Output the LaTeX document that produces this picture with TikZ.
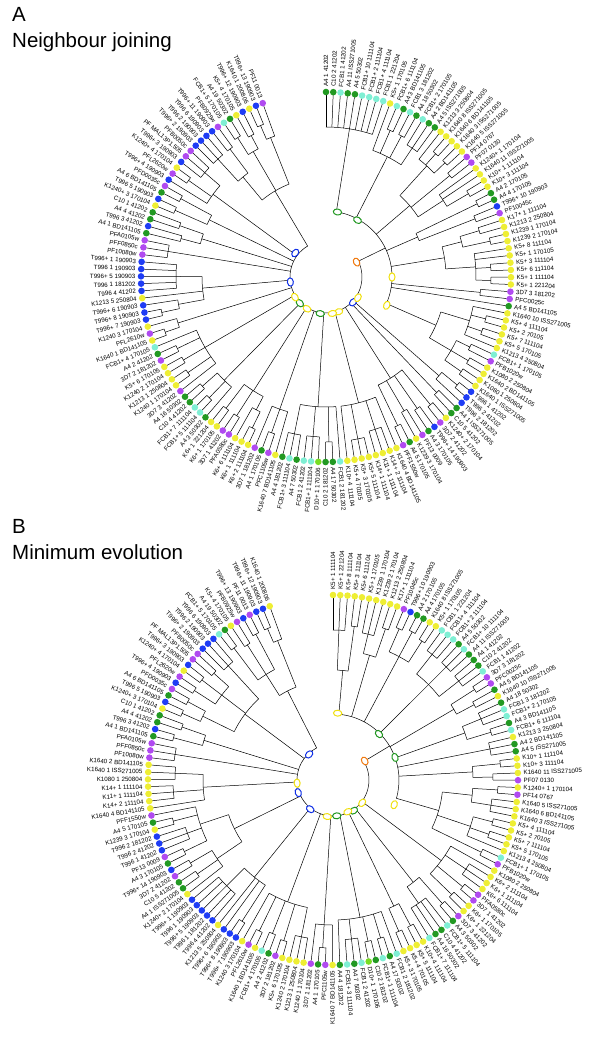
\documentclass[tikz,border=0pt]{standalone}
\usepackage{fontspec}
\setmainfont{Liberation Sans}
\definecolor{cG}{HTML}{229922}
\definecolor{cC}{HTML}{7FEFD4}
\definecolor{cY}{HTML}{EEEE33}
\definecolor{cP}{HTML}{B04AF0}
\definecolor{cB}{HTML}{1E3CF5}
\definecolor{cL}{HTML}{77DD22}
\definecolor{mO}{HTML}{F07A10}
\definecolor{mG}{HTML}{1E961E}
\definecolor{mY}{HTML}{F0E010}
\definecolor{mB}{HTML}{1030E6}
\newcommand\lbfont{\fontsize{6.2}{7}\selectfont}
\newcommand\TAng[1]{90-(#1-1)*2.251656}
\newcommand\TLf[2]{\pgfmathsetmacro\ta{\TAng{#1}}\draw[tl] (\ta:182pt) -- (\ta:#2pt);}
\newcommand\TArc[3]{\pgfmathsetmacro\ta{\TAng{#1}}\pgfmathsetmacro\tb{\TAng{#2}}\draw[tl] (\ta:#3pt) arc[start angle=\ta, end angle=\tb, radius=#3pt];}
\newcommand\TLn[3]{\pgfmathsetmacro\ta{\TAng{#1}}\draw[tl] (\ta:#2pt) -- (\ta:#3pt);}
\newcommand\TIg[4]{\TArc{#1}{#2}{#3}\TLn{(#1+#2)/2}{#3}{#4}}
\newcommand\TLg[4]{\foreach \k in {#1,...,#2}{\TLf{\k}{#3}}\TIg{#1}{#2}{#3}{#4}}
\newcommand\TMk[3]{\begin{scope}[shift={(#1:#2pt)},rotate=#1]\draw[line width=1pt,draw=#3,fill=white] (0,0) ellipse[x radius=3pt,y radius=4.2pt];\end{scope}}
\newcommand\TLeaves[2]{%
 \foreach \lab/\col [count=\i] in {#2}{%
  \pgfmathsetmacro\ta{\TAng{\i}}%
  \fill[fill=\col] (\ta:185pt) circle[radius=3.3pt];
  \ifdim\ta pt<-90pt
    \pgfmathsetmacro\tr{\ta+180}%
    \node[lbl,anchor=east,rotate=\tr] (#1\i) at (\ta:190.5pt) {\lab};
  \else
    \node[lbl,anchor=west,rotate=\ta] (#1\i) at (\ta:190.5pt) {\lab};
  \fi}}
\tikzset{tl/.style={line width=0.5pt,black},lbl/.style={font=\lbfont,inner sep=0pt},
 ttl/.style={anchor=base west,inner sep=0pt,font=\fontsize{20.5}{24}\selectfont}}
\begin{document}
\begin{tikzpicture}
\useasboundingbox (0pt,0pt) rectangle (600pt,-1042pt);
\node[ttl] (tA) at (12pt,-21pt) {A};
\node[ttl] (tAn) at (12pt,-47pt) {Neighbour joining};
\node[ttl] (tB) at (12pt,-533pt) {B};
\node[ttl] (tBn) at (12pt,-559pt) {Minimum evolution};
% ---------------- Tree A ----------------
\begin{scope}[shift={(326pt,-277pt)}]
\TLg{1}{9}{150}{66}
\TLf{10}{135}\TLg{11}{12}{160}{135}\TLg{13}{14}{160}{135}\TLg{15}{17}{155}{135}\TIg{10}{16}{135}{66}
\TLf{18}{150}\TLg{19}{20}{165}{150}\TLg{21}{22}{165}{150}\TIg{18}{21.5}{150}{110}
\TLg{23}{24}{160}{110}
\TLf{25}{140}\TLf{26}{140}\TLg{27}{28}{165}{140}\TIg{25}{27.5}{140}{110}
\TIg{19.75}{26.25}{110}{66}
\TLg{29}{30}{168}{100}\TLg{31}{32}{160}{100}\TIg{29.5}{31.5}{100}{66}
\TLg{33}{34}{160}{140}\TLg{35}{36}{168}{140}\TIg{33.5}{35.5}{140}{120}
\TLf{37}{150}\TLf{38}{150}\TLg{39}{40}{165}{150}\TLg{41}{42}{165}{150}\TIg{37}{41.5}{150}{120}
\TIg{34.5}{39.25}{120}{66}
\TLg{43}{44}{155}{66}
\TLf{45}{66}
\TLf{46}{150}\TLg{47}{48}{165}{150}\TLg{49}{50}{165}{150}\TLf{51}{150}\TIg{46}{51}{150}{120}
\TLg{52}{53}{160}{145}\TLg{54}{55}{165}{145}\TLg{56}{57}{165}{145}\TIg{52.5}{56.5}{145}{120}
\TIg{48.5}{54.5}{120}{66}
\TArc{5}{51.5}{66}\TLn{29.4}{36}{66}
\TLg{58}{59}{170}{150}\TLf{60}{150}\TIg{58.5}{60}{150}{36}
\TLg{61}{62}{160}{36}
\TLg{63}{64}{165}{120}\TLg{65}{66}{160}{120}\TLg{67}{68}{155}{120}\TLg{69}{70}{165}{120}\TIg{63.5}{69.5}{120}{36}
\TLf{71}{130}\TLg{72}{74}{160}{130}\TLg{75}{77}{165}{130}\TLf{78}{130}\TIg{71}{78}{130}{36}
\TLf{79}{130}\TLg{80}{81}{165}{130}\TLg{82}{84}{160}{130}\TLg{85}{87}{160}{130}\TIg{79}{86}{130}{36}
\TLf{88}{140}\TLg{89}{90}{165}{140}\TLf{91}{140}\TIg{88}{91}{140}{36}
\TLg{92}{93}{168}{150}\TLf{94}{150}\TIg{92.5}{94}{150}{135}\TLg{95}{96}{165}{135}\TLg{97}{98}{165}{135}\TIg{93.25}{97.5}{135}{36}
\TLf{99}{145}\TLg{100}{101}{168}{145}\TLg{102}{103}{165}{145}\TIg{99}{102.5}{145}{36}
\TLf{104}{140}\TLg{105}{106}{168}{140}\TLg{107}{108}{165}{140}\TLg{109}{110}{165}{140}\TLf{111}{140}\TIg{104}{111}{140}{36}
\TLg{112}{113}{170}{155}\TLf{114}{155}\TIg{112.5}{114}{155}{36}
\TLg{115}{116}{168}{150}\TLf{117}{150}\TIg{115.5}{117}{150}{124}\TLf{118}{124}\TLg{119}{123}{150}{124}\TIg{116.25}{121}{124}{36}
\TLg{124}{126}{160}{36}
\TLg{127}{128}{150}{130}\TLg{129}{130}{155}{130}\TIg{127.5}{129.5}{130}{36}
\TLg{131}{132}{165}{130}\TLg{133}{134}{165}{130}\TIg{131.5}{133.5}{130}{36}
\TLf{135}{140}\TLg{136}{137}{168}{140}\TLg{138}{140}{160}{140}\TIg{135}{139}{140}{36}
\TLg{141}{143}{160}{130}\TLg{144}{145}{160}{130}\TIg{142}{144.5}{130}{100}
\TLg{146}{147}{165}{145}\TLg{148}{149}{160}{145}\TIg{146.5}{148.5}{145}{100}
\TLg{150}{151}{165}{150}\TLf{152}{150}\TIg{150.5}{152}{150}{100}
\TIg{143.25}{151.25}{100}{36}
\TArc{29.4}{147.25}{36}
\TLeaves{a}{A4 1 41202/cG, C10 2 41202/cG, FCB1 1 41202/cC, A4 11 ISS271005/cG, A4 5 50302/cG, FCB1+ 10 111104/cC, FCB1+ 2 111104/cC, FCB1+ 4 111104/cC, FCB1 1 221204/cC, K5+ 1 170105/cY,
FCB1+ 6 111104/cC, A4 3 BD141105/cG, FCB1 3 181202/cC, A4 18 50302/cG, FCB1+ 2 170105/cC, A4 2 BD141105/cG, A4 5 ISS271005/cG, K1213 3 250804/cY, K1640 8 ISS271005/cY, K1640 6 BD141105/cY,
K1640 3 ISS271005/cY, K1640 5 ISS271005/cY, PF14 0767/cP, PF07 0130/cP, K1240+ 1 170104/cY, K1640 11 ISS271005/cY, K10+ 1 111104/cY, K10+ 3 111104/cY, A4 2 170105/cG, A4 4 170105/cG,
T996+ 10 190903/cB, PF10045c/cP, K17+ 1 111104/cY, K1213 2 250804/cY, K1239 1 170104/cY, K1239 2 170104/cY, K5+ 8 111104/cY, K5+ 1 170105/cY, K5+ 3 111104/cY, K5+ 6 111104/cY,
K5+ 1 111104/cY, K5+ 1 221204/cY, 3D7 3 181202/cP, PFC0025c/cP, A4 5 BD141105/cG, K1640 10 ISS271005/cY, K5+ 4 111104/cY, K5+ 2 70105/cY, K5+ 7 111104/cY, K5+ 5 170105/cY,
K1213 4 250804/cY, FCB1+ 1 170105/cC, PFB1020w/cP, K1080 2 250804/cY, K1640 2 BD141105/cY, K1080 1 250804/cY, K1640 1 ISS271005/cY, T996 1 41202/cB, T996 2 41202/cB, T996 2 181202/cB,
A4 1 ISS271005/cG, C10 5 41202/cG, K1240+ 2 170104/cY, 3D7 2 41202/cP, T996+ 14 190903/cB, A4 3 170105/cG, PF13 0009/cP, K1239 3 170104/cY, A4 5 170105/cG, PFF1550w/cP,
K1640 4 BD141105/cY, K14+ 2 111104/cY, K11+ 1 111104/cY, K14+ 1 111104/cY, K5+ 5 111104/cY, K5+ 3 170105/cY, K5+ 4 70105/cY, K10+ 4 111104/cY, FCB1 2 181202/cC, A4 17 50302/cG,
C10 2 181202/cG, D10+ 1 170106/cL, FCB1+ 1 111104/cC, FCB1 2 41202/cC, A4 7 50302/cG, FCB1+ 3 111104/cC, A4 4 181202/cG, K1640 7 BD141105/cY, PFC1105w/cP, A4 1 170105/cG,
3D7 1 181202/cP, K6+ 2 111104/cY, K6+ 1 111104/cY, K6+ 6 111104/cY, PFA0580c/cP, 3D7 1 41202/cP, K6+ 1 170105/cY, K6+ 1 221204/cY, A4 3 50302/cG, FCB1+ 5 111104/cC,
FCB1+ 7 111104/cC, C10 4 41202/cG, A4 16 50302/cG, 3D7 3 41202/cP, K1240 1 170104/cY, K1213 1 250804/cY, K1240 2 170104/cY, K5+ 6 170105/cY, 3D7 2 181202/cP, A4 2 41202/cG,
FCB1+ 4 170105/cC, K1640 1 BD141105/cY, PFL2610w/cP, K1240 3 170104/cY, T996+ 7 190903/cB, T996+ 8 190903/cB, T996+ 6 190903/cB, K1213 5 250804/cY, T996 4 41202/cB, T996 1 181202/cB,
T996+ 5 190903/cB, T996 1 190903/cB, T996+ 1 190903/cB, PF10080w/cP, PFF0850c/cP, PFA0105w/cP, A4 1 BD141105/cG, T996 3 41202/cB, A4 4 41202/cG, C10 1 41202/cG,
K1240+ 3 170104/cY, T996 5 190903/cB, A4 6 BD141105/cG, PFD0035c/cP, T996+ 4 190903/cB, PFL2620w/cP, K1240+ 4 170104/cY, T996+ 3 190903/cB, PF MAL13P1.505/cP, PFB0050c/cP,
T996+ 2 190903/cB, T996 2 190903/cB, T996 6 190903/cB, T996+ 11 190903/cB, PFB0925w/cP, FCB1+ 5 170105/cC, A4 19 50302/cG, K5+ 4 170105/cY, T996+ 12 190903/cB, K1640 1 200806/cY,
T996+ 13 190903/cB, PF11 0013/cP}
\TMk{26}{34}{mO}\TMk{80}{66}{mG}\TMk{61}{65}{mG}\TMk{0}{66}{mY}\TMk{-25}{67}{mY}
\TMk{-43}{37}{mB}\TMk{-33}{38}{mY}\TMk{-70}{37}{mY}\TMk{-80}{37}{mY}\TMk{-99}{37}{mG}
\TMk{-121}{37}{mY}\TMk{-135}{37}{mG}\TMk{-147}{37}{mY}\TMk{188}{36}{mB}\TMk{142}{39}{mB}
\end{scope}
% ---------------- Tree B ----------------
\begin{scope}[shift={(333pt,-780pt)}]
\TLg{1}{3}{150}{110}\TLg{4}{5}{155}{110}\TIg{2}{4.5}{110}{66}
\TLg{6}{8}{150}{130}\TLg{9}{10}{160}{130}\TIg{7}{9.5}{130}{66}
\TLg{11}{12}{165}{140}\TLg{13}{14}{168}{140}\TLg{15}{16}{165}{140}\TIg{11.5}{15.5}{140}{66}
\TLg{17}{19}{160}{135}\TLg{20}{22}{160}{135}\TLg{23}{25}{160}{135}\TIg{18}{24}{135}{66}
\TLg{26}{27}{168}{140}\TLg{28}{29}{160}{140}\TIg{26.5}{28.5}{140}{66}
\TLg{30}{32}{160}{140}\TLg{33}{34}{165}{140}\TIg{31}{33.5}{140}{66}
\TLg{35}{37}{160}{66}
\TLg{38}{39}{168}{140}\TLg{40}{41}{160}{140}\TIg{38.5}{40.5}{140}{66}
\TLg{42}{43}{165}{140}\TLg{44}{46}{160}{140}\TIg{42.5}{45}{140}{110}
\TLg{47}{48}{165}{145}\TLg{49}{50}{165}{145}\TLf{51}{145}\TIg{47.5}{51}{145}{110}
\TLg{52}{53}{165}{110}
\TIg{43.75}{52.5}{110}{66}
\TArc{3.25}{48.125}{66}\TLn{27.2}{36}{66}
\TLf{54}{135}\TLg{55}{57}{160}{135}\TLg{58}{59}{168}{135}\TLg{60}{61}{165}{135}\TIg{54}{60.5}{135}{36}
\TLg{62}{63}{165}{130}\TLg{64}{67}{150}{130}\TIg{62.5}{65.5}{130}{36}
\TLg{68}{69}{165}{140}\TLg{70}{71}{165}{140}\TIg{68.5}{70.5}{140}{36}
\TLf{72}{140}\TLg{73}{74}{165}{140}\TLg{75}{76}{165}{140}\TLg{77}{79}{160}{140}\TLf{80}{140}\TIg{72}{80}{140}{36}
\TLf{81}{145}\TLg{82}{83}{168}{145}\TLf{84}{145}\TIg{81}{84}{145}{36}
\TLg{85}{87}{160}{130}\TLg{88}{89}{168}{130}\TLg{90}{91}{165}{130}\TLg{92}{93}{168}{130}\TLf{94}{130}\TIg{86}{94}{130}{36}
\TLg{95}{96}{168}{125}\TLf{97}{125}\TLf{98}{125}\TLg{99}{103}{150}{125}\TIg{95.5}{101}{125}{36}
\TLf{104}{140}\TLg{105}{106}{165}{140}\TLg{107}{108}{165}{140}\TIg{104}{107.5}{140}{110}
\TLg{109}{110}{165}{140}\TLg{111}{113}{155}{140}\TLg{114}{115}{165}{140}\TLf{116}{140}\TIg{109.5}{116}{140}{110}
\TIg{105.75}{112.75}{110}{36}
\TLf{117}{130}\TLg{118}{120}{160}{130}\TLg{121}{123}{158}{130}\TIg{117}{122}{130}{36}
\TLg{124}{126}{160}{36}
\TLg{127}{128}{165}{135}\TLg{129}{130}{160}{135}\TIg{127.5}{129.5}{135}{36}
\TLg{131}{132}{165}{145}\TLg{133}{134}{165}{145}\TIg{131.5}{133.5}{145}{110}
\TLg{135}{136}{165}{140}\TLg{137}{138}{165}{140}\TLg{139}{140}{160}{140}\TIg{135.5}{139.5}{140}{110}
\TLg{141}{143}{155}{110}
\TIg{132.5}{142}{110}{36}
\TLg{144}{145}{165}{125}\TLg{146}{147}{160}{125}\TLg{148}{149}{165}{125}\TIg{144.5}{148.5}{125}{100}
\TLg{150}{151}{165}{150}\TLf{152}{150}\TIg{150.5}{152}{150}{100}
\TIg{146.5}{151.25}{100}{36}
\TArc{27.2}{148.875}{36}
\TLeaves{b}{K5+ 1 111104/cY, K5+ 1 221204/cY, K5+ 8 111104/cY, K5+ 3 111104/cY, K5+ 6 111104/cY, K5+ 1 170105/cY, K1239 1 170104/cY, K1239 2 170104/cY, K1213 2 250804/cY, K17+ 1 111104/cY,
PF10045c/cP, T996+ 10 190903/cB, A4 2 170105/cG, A4 4 170105/cG, K1640 8 ISS271005/cY, K5+ 1 170105/cY, FCB1 1 221204/cC, FCB1+ 4 111104/cC, FCB1+ 2 111104/cC, A4 5 50302/cG,
FCB1+ 10 111104/cC, A4 11 ISS271005/cG, A4 1 41202/cG, C10 2 41202/cG, FCB1 1 41202/cC, 3D7 3 181202/cP, PFC0025c/cP, A4 5 BD141105/cG, K1640 10 ISS271005/cY, A4 18 50302/cG,
FCB1 3 181202/cC, FCB1+ 2 170105/cC, A4 3 BD141105/cG, FCB1+ 6 111104/cC, K1213 3 250804/cY, A4 2 BD141105/cG, A4 5 ISS271005/cG, K10+ 1 111104/cY, K10+ 3 111104/cY, K1640 11 ISS271005/cY,
PF07 0130/cP, K1240+ 1 170104/cY, PF14 0767/cP, K1640 5 ISS271005/cY, K1640 6 BD141105/cY, K1640 3 ISS271005/cY, K5+ 4 111104/cY, K5+ 2 70105/cY, K5+ 7 111104/cY, K5+ 5 170105/cY,
K1213 4 250804/cY, FCB1+ 1 170105/cC, PFB1020w/cP, K1080 2 250804/cY, K6+ 2 111104/cY, K6+ 1 111104/cY, K6+ 6 111104/cY, PFA0580c/cP, 3D7 1 41202/cP, K6+ 1 170105/cY,
K6+ 1 221204/cY, 3D7 3 41202/cP, A4 3 50302/cG, FCB1+ 5 111104/cC, C10 4 41202/cG, A4 16 50302/cG, FCB1+ 7 111104/cC, K10+ 4 111104/cY, K5+ 5 111104/cY, K5+ 4 70105/cY,
K5+ 3 170105/cY, FCB1 2 181202/cC, A4 17 50302/cG, FCB1+ 1 111104/cC, C10 2 181202/cG, D10+ 1 170106/cL, FCB1 2 41202/cC, A4 7 50302/cG, FCB1+ 3 111104/cC, A4 4 181202/cG,
K1640 7 BD141105/cY, PFC1105w/cP, A4 1 170105/cG, 3D7 1 181202/cP, K1240 1 170104/cY, K1213 1 250804/cY, K1240 2 170104/cY, K5+ 6 170105/cY, 3D7 2 181202/cP, A4 2 41202/cG,
FCB1+ 4 170105/cC, K1640 1 BD141105/cY, PFL2610w/cP, K1240 3 170104/cY, T996+ 7 190903/cB, T996+ 8 190903/cB, T996+ 6 190903/cB, K1213 5 250804/cY, T996 4 41202/cB, T996 1 181202/cB,
T996+ 5 190903/cB, T996 1 190903/cB, T996+ 1 190903/cB, K1240+ 2 170104/cY, A4 1 ISS271005/cG, C10 5 41202/cG, 3D7 2 41202/cP, T996+ 14 190903/cB, A4 3 170105/cG, PF13 0009/cP,
T996 1 41202/cB, T996 2 41202/cB, T996 2 181202/cB, K1239 3 170104/cY, A4 5 170105/cG, PFF1550w/cP, K1640 4 BD141105/cY, K14+ 2 111104/cY, K11+ 1 111104/cY, K14+ 1 111104/cY,
K1080 1 250804/cY, K1640 1 ISS271005/cY, K1640 2 BD141105/cY, PF10080w/cP, PFF0850c/cP, PFA0105w/cP, A4 1 BD141105/cG, T996 3 41202/cB, A4 4 41202/cG, C10 1 41202/cG,
K1240+ 3 170104/cY, T996 5 190903/cB, A4 6 BD141105/cG, PFD0035c/cP, T996+ 4 190903/cB, PFL2620w/cP, K1240+ 4 170104/cY, T996+ 3 190903/cB, PF MAL13P1.505/cP, PFB0050c/cP,
T996+ 2 190903/cB, T996 2 190903/cB, T996 6 190903/cB, FCB1+ 5 170105/cC, A4 19 50302/cG, K5+ 4 170105/cY, PFB0925w/cP, T996+ 13 190903/cB, PF11 0013/cP, T996+ 11 190903/cB,
T996+ 12 190903/cB, K1640 1 200806/cY}
\TMk{86}{67}{mY}\TMk{45}{65}{mG}\TMk{31}{37}{mO}\TMk{20}{66}{mG}\TMk{133}{35}{mB}
\TMk{185}{36}{mY}\TMk{200}{37}{mB}\TMk{-22}{66}{mY}\TMk{-38}{37}{mY}\TMk{-56}{37}{mG}
\TMk{-65}{35}{mY}\TMk{-84}{36}{mG}\TMk{-99}{37}{mY}\TMk{-128}{37}{mB}
\end{scope}
\end{tikzpicture}
\end{document}
